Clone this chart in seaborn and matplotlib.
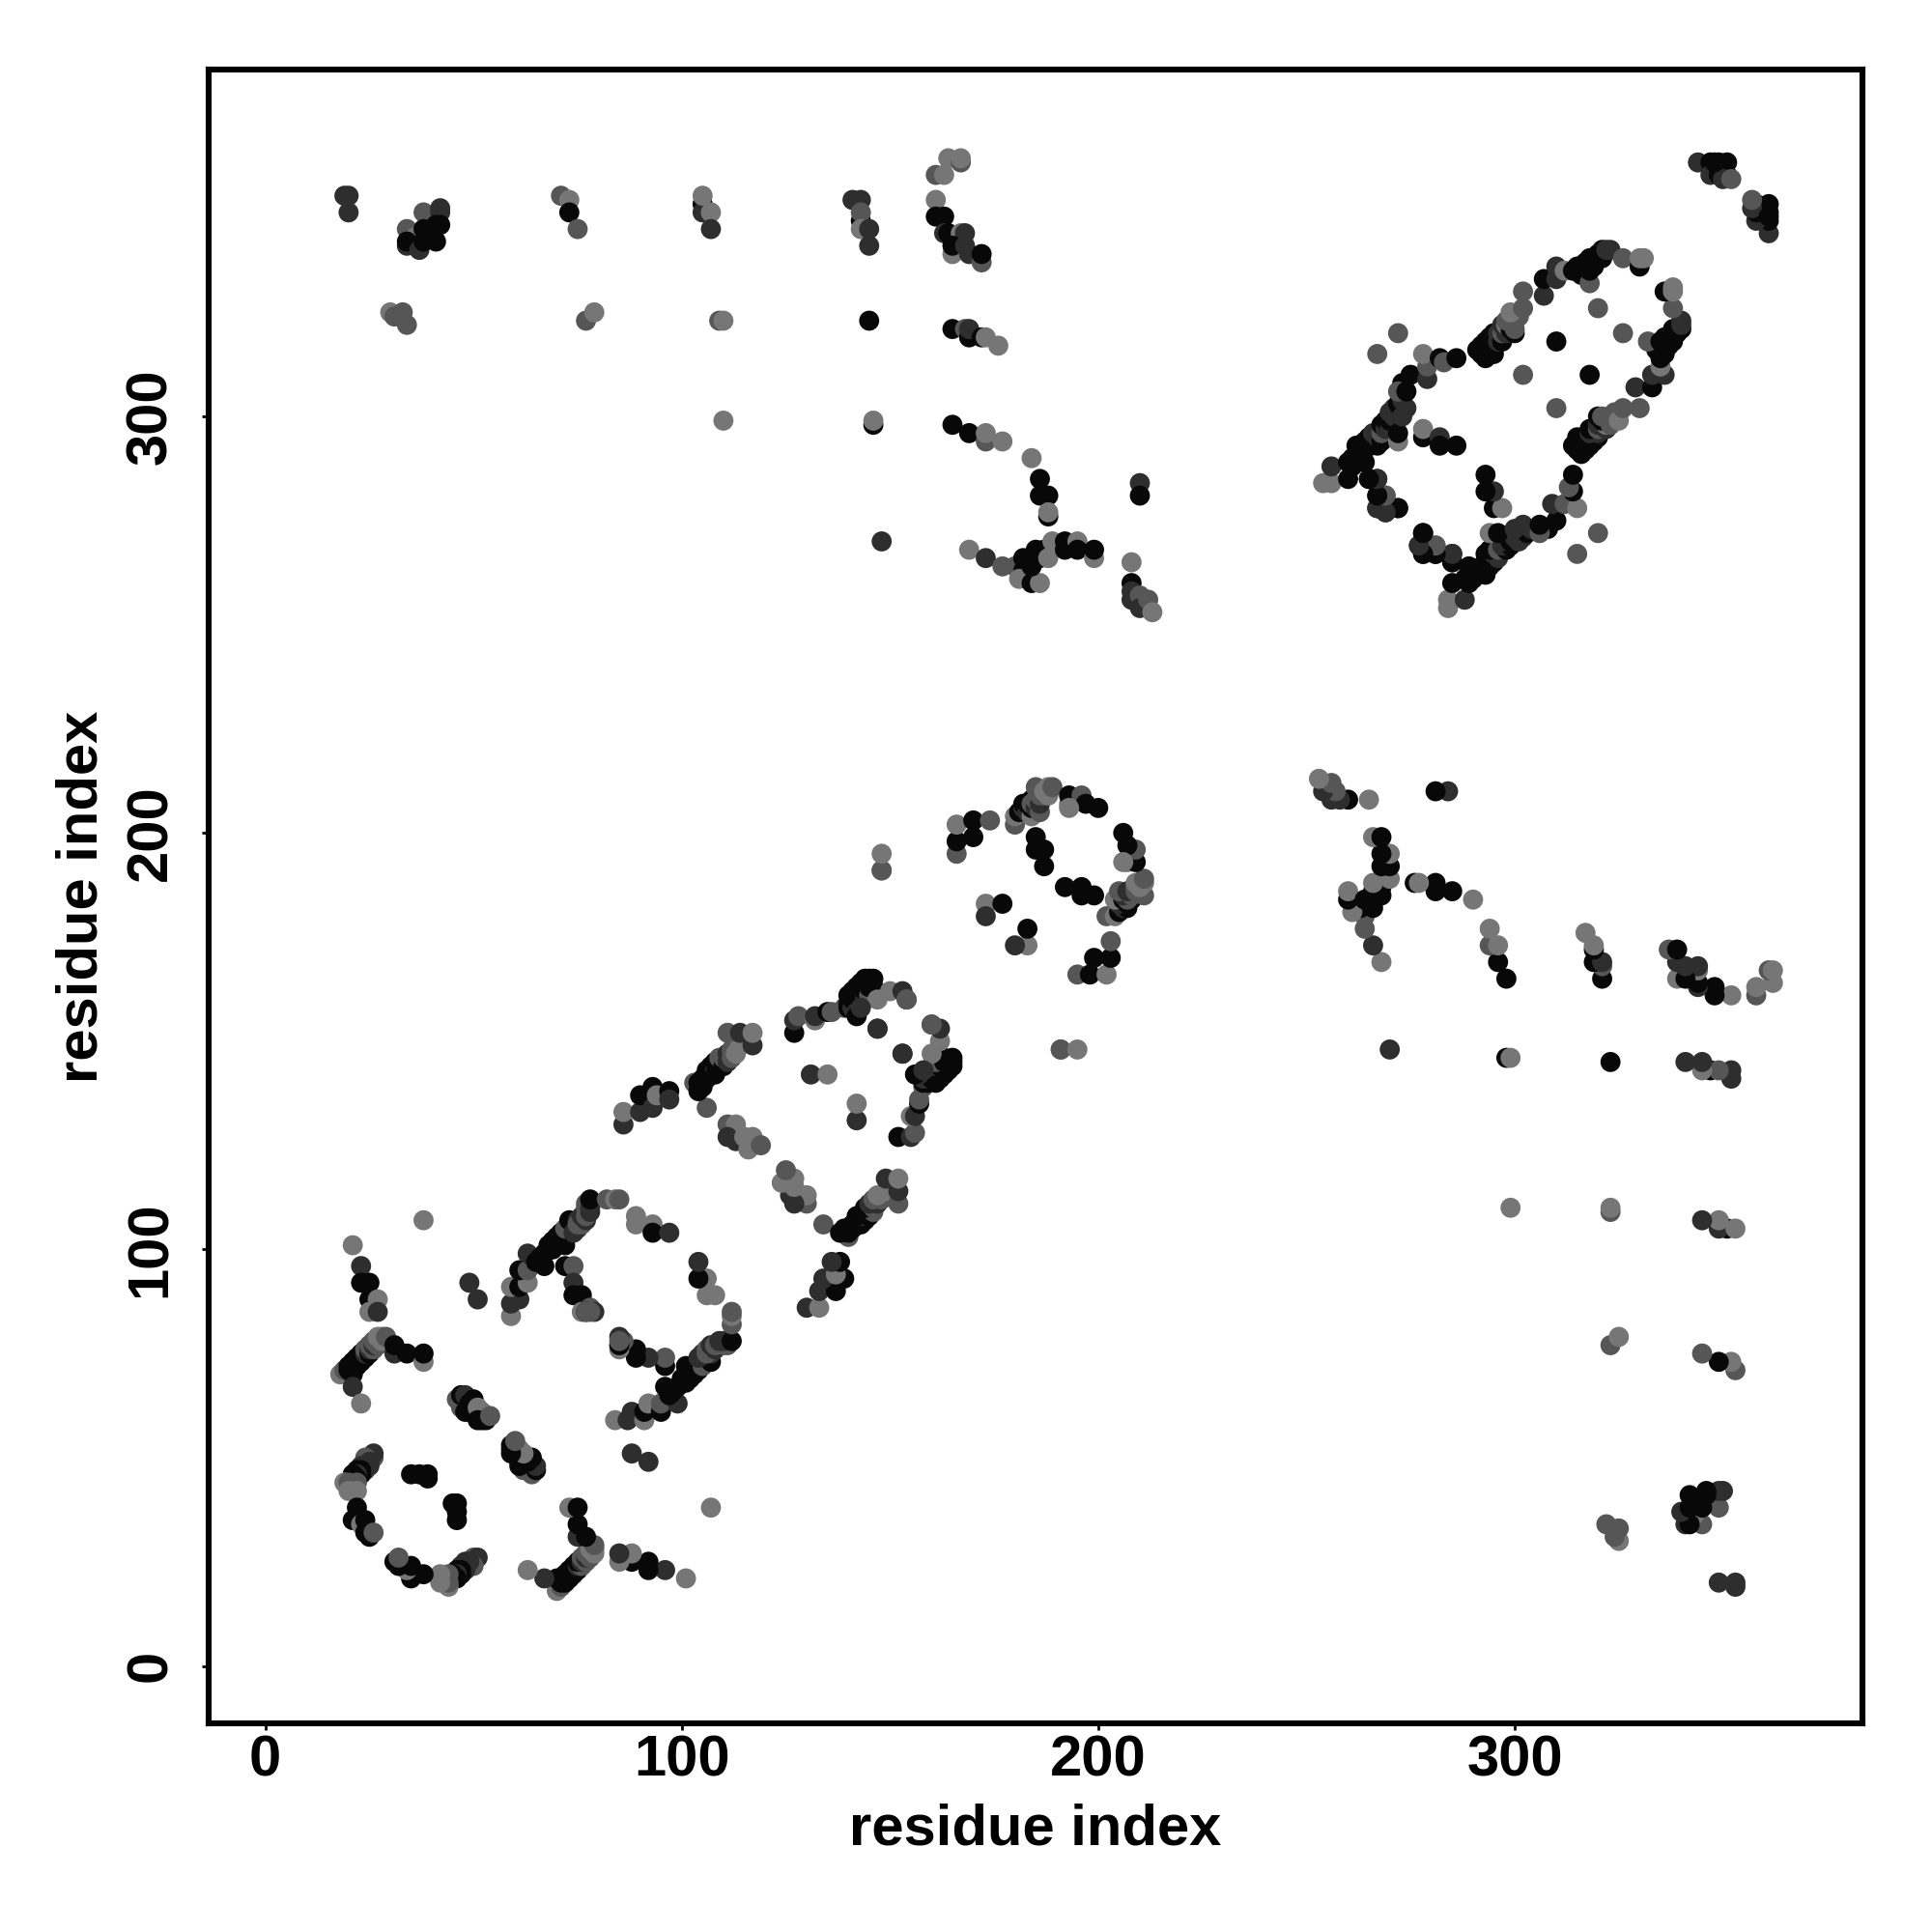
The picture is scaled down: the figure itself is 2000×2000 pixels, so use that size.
#!/usr/bin/env python3
# contact map of a protein
# every contact is (residue i, residue j, strength), strength 3 is the darkest
import pandas as pd
import matplotlib
matplotlib.use('Agg')
import matplotlib.pyplot as plt
import seaborn as sns

ticks = [0, 100, 200, 300]
axis_name = 'residue index'

arc_near = [(18,70,0),(19,71,1),(21,70,3),(20,71,3),(20,72,3),(21,72,3),(21,73,3),(22,72,3),(22,73,3),(22,74,3),(23,73,3),
    (23,74,3),(23,75,3),(24,74,3),(24,75,2),(24,76,1),(25,75,3),(25,76,2),(25,77,1),(26,76,1),(26,77,2),(26,78,1),
    (27,77,1),(27,78,1),(27,79,0),(28,78,0),(28,79,0),(29,79,1),(21,67,2),(23,63,0),(31,75,2),(31,77,3),(34,75,3),
    (38,73,0),(38,75,3)]
arm_near = [(38,107,0),(21,101,0),(23,96,2),(23,92,3),(25,92,3),(25,88,3),(27,88,0),(25,85,0),(27,85,2),
    (49,92,2),(51,88,2)]
diag_near = [(46,64,1),(47,62,1),(47,65,3),(48,65,2),(49,63,3),(50,64,3),(48,61,3),(49,61,3),(52,59,3),
    (53,60,2),(51,62,0),(52,61,0),(51,59,3),(53,59,3),(54,60,1)]
ring_c = [(26,50,1),(26,51,2),(25,50,2),(24,50,1),(24,49,1),(24,48,2),(25,48,2),(25,49,2),(24,47,2),(23,48,2),(23,47,3),
    (23,46,3),(22,47,3),(22,46,2),(22,45,3),(21,46,3),(21,45,3),(21,44,3),(22,44,1),(19,44,0),
    (20,44,1),(20,42,0),(22,42,0),(22,38,3),(22,36,3),(21,35,3),(23,34,0),(24,35,3),(24,32,3),(25,31,3),(26,32,1),
    (35,46,3),(37,46,3),(39,46,3),(39,45,3)]
rise_a = [(59,84,0),(59,87,2),(61,88,2),(59,91,0),(61,91,3),(63,92,0),(61,95,3),(63,95,1),(63,99,2),(67,96,3),
    (65,97,3),(66,98,3),(67,99,3),(68,101,3),(69,100,3),(69,102,3),(70,101,3),(71,102,3),(71,103,3),(72,101,3),(72,103,3),
    (70,103,3),(71,104,3),(73,104,3),(73,105,3),(72,105,1),(73,107,3),(74,106,3),
    (74,104,2),(75,105,2),(75,107,2),(75,106,1),(76,106,1),(76,107,1),(76,108,2),(77,107,2),(77,108,1),(77,110,1),(77,111,1),
    (78,110,2),(78,109,2),(78,112,3),(82,112,1),(84,112,0),(85,112,1),
    (89,108,0),(89,106,0),(93,106,0),(93,104,3),(97,104,2)]
inner_a = [(72,96,3),(74,96,1),(74,92,2),(74,89,3),(76,89,3),(76,85,0),(78,86,1),(77,85,3),(79,85,2),
    (78,85,1),(85,77,1)]
rise_b = [(86,130,2),(86,133,0),(90,133,2),(90,137,3),(93,134,2),(93,139,3),(94,137,0),(97,138,3),(97,136,2),
    (106,134,1),(103,140,1),(104,138,3),(104,140,3),(105,139,3),(105,141,3),(105,140,3),(106,141,3),(106,143,3),(107,142,3),
    (107,144,3),(108,143,2),(108,142,3),(108,145,3),(109,144,3),(109,146,1),(110,144,3),(110,146,1),(111,145,2),
    (111,147,2),(112,146,1),(112,148,1),(113,147,0),(114,149,0),(117,149,2),(111,152,1),(114,152,2),(117,152,0)]
inner_b = [(111,130,1),(113,130,0),(111,127,2),(113,126,2),(115,127,0),(117,127,0),(116,124,0),(119,125,1)]
rise_c = [(127,152,3),(127,155,2),(128,156,1),(132,155,0),(132,156,2),(135,157,3),(136,157,1),(139,158,1),
    (140,158,3),(140,159,3),(140,161,3),(141,158,2),(141,160,3),(141,162,3),(142,157,2),(142,161,3),(142,163,3),(143,162,3),
    (143,164,3),(144,160,2),(144,162,3),(144,164,3),(144,165,3),(145,161,1),(145,163,3),(145,165,3),(146,163,3),(146,165,3),
    (147,160,0),(150,162,0),(153,162,2),(154,160,1),(147,153,2),(153,147,2),(154,160,1),
    (131,142,2),(135,142,0),(142,156,3),(143,158,2)]
ring_d = [(148,191,0),(148,191,1),(148,195,0),(166,195,1),(166,198,3),(166,202,0),(170,199,3),(170,203,3),(174,203,1),
    (180,202,1),(180,204,0),(181,205,3),(182,206,2),(182,207,3),(183,205,2),(183,207,3),(184,204,0),(184,208,3),(184,206,3),
    (184,207,1),(185,206,2),(185,208,1),(185,211,1),(186,205,1),(186,207,2),(186,209,1),(187,209,1),(187,210,0),
    (188,209,0),(188,211,0),(189,211,1),(193,207,0),(193,209,3),(196,209,1),(197,207,3),(200,206,3),(185,196,3),(185,199,3),
    (187,196,3),(187,192,3),(193,206,0),(173,183,0),(177,183,3),(173,180,2)]
top_row = [(19,353,2),(20,353,2),(20,349,2),(38,349,1),(42,350,2),(42,349,2),(34,345,1),(36,343,0),(38,345,3),
    (41,346,3),(42,346,3),(34,341,2),(34,342,3),(37,340,2),(38,342,3),(41,342,3),(71,353,1),(73,352,0),
    (73,349,3),(75,345,1),(105,351,3),(105,349,2),(105,353,0),(107,349,0),(107,345,2)]
row_323 = [(30,325,0),(31,324,1),(33,325,1),(34,322,1),(77,323,1),(79,325,0),(109,323,1),(110,323,0),(110,299,0)]
fan_top = [(141,352,2),(143,352,2),(143,347,3),(143,349,1),(143,345,0),(145,345,2),(145,341,2),(161,352,0),
    (161,348,3),(163,348,3),(161,358,1),(163,358,0),(164,362,0),(167,361,1),(167,362,0),(163,344,2),(164,344,3),
    (167,344,0),(168,344,2),(165,339,0),(165,341,3),(168,341,2),(169,339,2),(172,337,1),(172,339,3)]
fan_mid = [(145,323,3),(165,321,3),(168,321,1),(169,319,3),(169,321,2),(172,319,3),(173,319,0),(176,317,0),
    (146,298,3),(146,299,0),(165,298,3),(169,296,3),(173,294,1),(173,296,0),(177,294,0),(184,290,0),(186,285,3),
    (186,281,3),(188,281,3),(188,276,3),(188,277,0)]
fan_low = [(148,270,2),(169,268,0),(173,266,2),(177,264,1),(180,264,1),(182,266,3),(182,263,3),(181,261,0),(184,260,3),
    (186,260,0),(184,264,3),(185,268,3),(186,266,3),(187,268,3),(188,266,0),(189,270,0),(192,270,3),(192,268,3),
    (195,270,0),(195,268,3),(199,266,0),(199,268,3),(210,284,2),(210,281,3),(208,265,0),(208,260,3),(208,258,2),
    (208,256,2),(210,257,1),(210,254,2),(212,256,1),(213,253,0)]
ring_e = [(254,284,0),(256,284,0),(256,288,2),(260,285,3),(260,289,3),(261,288,3),(261,290,3),(262,289,3),(262,291,3),(262,293,3),
    (263,291,3),(263,293,3),(264,289,3),(264,292,3),(264,294,3),(265,293,3),(265,295,3),(266,294,3),(266,296,2),
    (267,293,3),(267,295,2),(268,294,3),(268,296,1),(268,298,3),(269,297,2),(269,299,3),(270,297,2),(270,299,3),
    (271,300,2),(271,302,2),(272,294,0),(272,296,3),(272,301,2),(270,301,2),(272,303,3),(273,300,2),(273,304,2),(273,308,3),
    (274,302,2),(272,306,1),
    (274,306,3),(275,310,3),(279,309,2),(279,312,1),(278,315,0),(282,314,3),(283,313,1),(286,314,3),(267,315,1),(272,320,1),
    (278,295,3),(278,297,0),(282,295,2),(282,293,3),(286,293,3),(265,285,3),(267,285,2),(267,281,3),(269,281,1),
    (267,278,3),(269,277,2),(272,278,3),(278,272,3),(277,269,2),(278,267,2),(281,269,1),(281,267,3),(285,267,2),(285,265,3)]
ring_f = [(291,316,3),(292,315,3),(292,317,3),(293,314,3),(294,316,3),(294,319,3),(295,315,3),(295,317,3),(295,320,3),(293,318,3),
    (296,318,2),(296,320,2),(297,318,3),(297,320,1),(297,322,2),(298,320,2),(298,322,0),(299,321,3),(299,323,1),(300,320,3),(300,321,1),
    (301,324,1),(298,323,1),(300,323,1),(299,325,0),(302,326,1),(302,330,1),(307,329,2),(307,333,3),(310,333,2),(310,336,2),(312,335,0),
    (314,335,3),(315,336,3),(316,334,3),(316,336,3),(317,335,3),(318,332,1),(317,337,3),(318,335,3),(318,338,3),(319,336,3),(319,338,3),
    (320,338,3),(320,339,3),(321,338,3),(321,340,3),(322,340,2),(323,340,2),(326,338,1),(330,336,3),
    (330,338,0),(331,338,0),(320,326,1),(310,318,3),(302,310,1)]
corner = [(344,361,2),(347,361,3),(349,361,3),(351,361,3),(347,358,2),(349,358,3),(351,358,3),(350,357,2),(352,357,1),
    (348,361,3)]

contacts = (arc_near + arm_near + diag_near + ring_c + rise_a + inner_a + rise_b + inner_b + rise_c + ring_d
            + top_row + row_323 + fan_top + fan_mid + fan_low + ring_e + ring_f + corner)

upper = pd.DataFrame(contacts, columns=['i', 'j', 'strength'])
# the map is symmetric so each contact shows up twice
lower = upper.rename(columns={'i': 'j', 'j': 'i'})
dataFrame = pd.concat([upper, lower], ignore_index=True)

sns.set_style('white')
plt.rcParams['font.family'] = ['Liberation Sans', 'DejaVu Sans']
plt.rcParams['font.weight'] = 'bold'

grays = {0: '#767676', 1: '#565656', 2: '#2e2e2e', 3: '#080808'}

fig = plt.figure(figsize=(10, 10), dpi=200)
ax = fig.add_axes([0.108, 0.108, 0.856, 0.856])
sns.scatterplot(data=dataFrame, x='i', y='j', hue='strength', palette=grays, s=56, linewidth=0,
                alpha=1, legend=False, ax=ax)

ax.set_xlim(-13.6, 383.5)
ax.set_ylim(-13.8, 383.3)
ax.set_xticks(ticks)
ax.set_yticks(ticks)
ax.tick_params(axis='x', length=2.5, width=1, pad=1.5, labelsize=21.5, color='black', labelcolor='black', bottom=True)
ax.tick_params(axis='y', length=2.5, width=1, pad=9, labelsize=21.5, color='black', labelcolor='black', left=True)
for label in ax.get_yticklabels():
    label.set_rotation(90)
    label.set_va('center')
for spine in ax.spines.values():
    spine.set_linewidth(2.2)
    spine.set_color('black')

ax.set_xlabel(axis_name, fontsize=21.5, fontweight='bold', color='black', labelpad=6)
ax.set_ylabel(axis_name, fontsize=21.5, fontweight='bold', color='black', labelpad=6)

plt.savefig('out.png')
plt.close()
